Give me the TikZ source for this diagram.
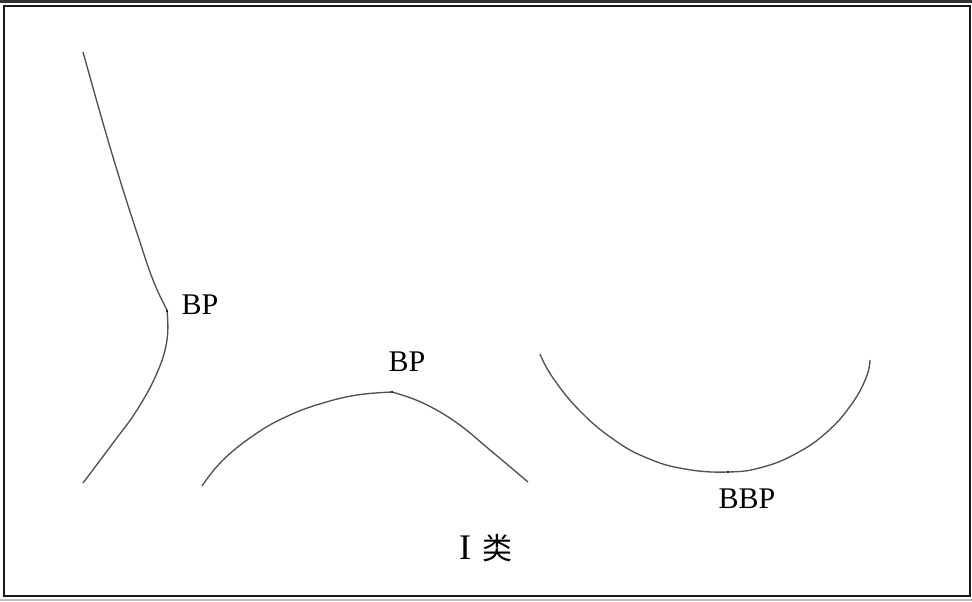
\documentclass[tikz,border=0pt]{standalone}
\usepackage{fontspec}
\setmainfont{Liberation Serif}
\newfontfamily\cjk{Noto Sans CJK SC}
\begin{document}
\begin{tikzpicture}[x=1pt,y=-1pt,
  curve/.style={draw=black!68, line width=1.35pt},
  lbl/.style={inner sep=0pt, font=\fontsize{30}{30}\selectfont},
  bpdot/.style={fill=black, inner sep=0pt, minimum size=2.4pt, circle}]
\useasboundingbox (0,0) rectangle (972,602);
\fill[white] (0,0) rectangle (972,602);
% frame
\fill[black!80] (0,0) rectangle (972,2.6);
\fill[black!25] (0,599) rectangle (972,601);
\draw[line width=2.3pt, black!90] (4.2,6.2) rectangle (970.2,595.7);
% curve 1
\draw[curve] plot[smooth, tension=0.7] coordinates {(83,52) (103,123) (120,180) (137,233) (153,280) (167,310)};
\draw[curve] plot[smooth, tension=0.7] coordinates {(167,310) (167,340) (157,373) (137,410) (113,443) (83,483)};
\node[bpdot] (p1) at (167,311) {};
\node[lbl] (l1) at (200,305) {BP};
% curve 2
\draw[curve] plot[smooth, tension=0.7] coordinates {(202,486) (223,460) (257,433) (290,415) (323,403) (357,395) (392,392)};
\draw[curve] plot[smooth, tension=0.7] coordinates {(392,392) (423,403) (457,423) (490,450) (528,482)};
\node[bpdot] (p2) at (392,392) {};
\node[lbl] (l2) at (407,362) {BP};
% curve 3
\draw[curve] plot[smooth, tension=0.75] coordinates {(540,354) (553,378) (580,411) (613,439) (647,458) (685,469) (728,472) (763,467) (797,453) (827,432) (851,405) (866,378) (870,360)};
\node[bpdot] (p3) at (728,472) {};
\node[lbl] (l3) at (747,499) {BBP};
% caption
\node[inner sep=0pt, font=\fontsize{36}{36}\selectfont] (c1) at (465,548) {I};
\node[inner sep=0pt, font=\cjk\fontsize{30}{30}\selectfont] (c2) at (497,548) {类};
\end{tikzpicture}
\end{document}
